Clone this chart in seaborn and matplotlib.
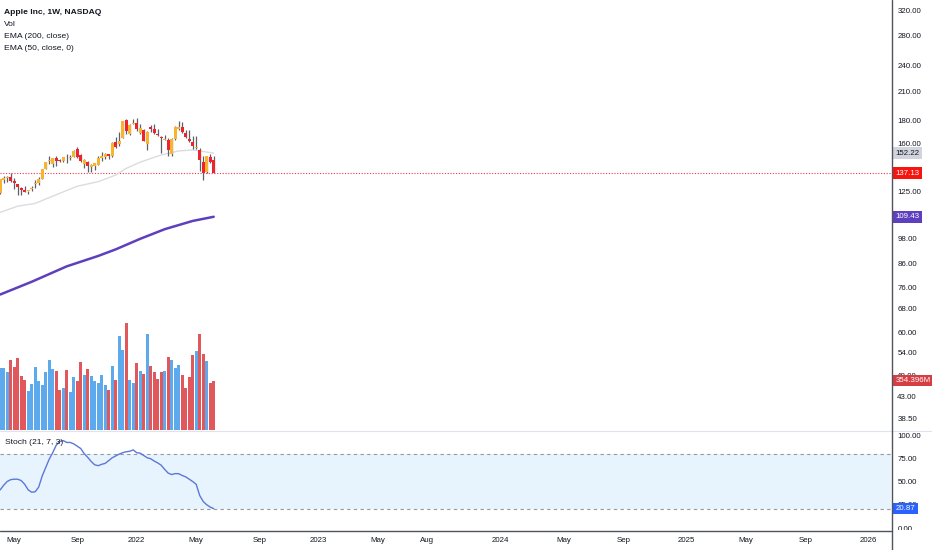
import numpy as np
import pandas as pd
import matplotlib
matplotlib.use("Agg")
import matplotlib.pyplot as plt
import matplotlib.dates as mdates
import matplotlib.transforms as mtransforms
from matplotlib.lines import Line2D
import seaborn as sns

# ==================================================
# DATA  (AAPL weekly)
# ==================================================

weeks = pd.date_range("2021-04-05", periods=62, freq="W-MON")

opens = [123.87, 132.44, 133.51, 134.83, 132.04, 129.41, 126.82, 126.01, 125.08, 126.53,
         129.94, 130.30, 133.41, 140.07, 146.21, 143.75, 148.27, 146.36, 146.20, 148.54,
         148.31, 149.00, 155.49, 150.63, 143.80, 145.47, 141.76, 142.27, 143.45, 148.68,
         148.99, 151.41, 150.37, 161.68, 159.37, 164.29, 181.12, 168.28, 177.09, 177.83,
         169.08, 171.51, 160.02, 174.01, 172.86, 167.37, 164.98, 163.06, 163.36, 151.45,
         163.51, 172.17, 174.57, 168.71, 163.92, 161.12, 156.71, 154.93, 145.55, 137.79,
         149.07, 147.03]

highs = [133.04, 135.00, 135.47, 137.07, 134.07, 129.54, 127.89, 128.32, 125.35, 128.46,
         132.55, 134.64, 140.00, 145.65, 150.00, 148.72, 149.83, 148.04, 149.44, 151.68,
         150.86, 154.98, 157.26, 151.42, 147.47, 145.96, 144.22, 144.90, 149.75, 153.17,
         152.43, 151.57, 161.02, 165.70, 170.30, 179.63, 182.13, 176.85, 181.33, 182.94,
         177.18, 172.54, 170.35, 176.24, 176.65, 172.81, 166.69, 167.36, 165.02, 164.48,
         175.28, 179.61, 178.49, 171.27, 171.53, 166.20, 166.48, 156.74, 149.77, 149.68,
         151.74, 149.87]

lows = [123.07, 130.63, 131.30, 131.07, 126.70, 122.25, 122.77, 124.21, 123.13, 124.83,
        127.07, 129.21, 133.35, 140.07, 143.63, 141.67, 142.54, 145.18, 145.30, 144.50,
        146.83, 149.00, 148.70, 145.76, 141.27, 138.27, 138.27, 139.20, 143.16, 146.41,
        147.80, 147.48, 149.34, 156.36, 157.80, 164.28, 168.34, 167.46, 177.07, 171.03,
        168.17, 162.30, 154.70, 169.51, 168.04, 166.34, 152.00, 162.95, 150.10, 150.10,
        163.01, 172.00, 168.91, 165.04, 161.50, 155.38, 155.50, 138.80, 132.61, 137.14,
        144.46, 137.06]

closes = [133.00, 134.16, 134.32, 131.46, 130.21, 127.45, 125.43, 124.61, 125.89, 127.35,
          130.46, 133.11, 139.96, 145.11, 146.39, 148.56, 145.86, 146.14, 149.10, 148.19,
          148.60, 154.30, 148.97, 146.06, 146.92, 142.65, 142.90, 144.84, 148.69, 149.80,
          151.28, 149.99, 160.55, 156.81, 161.84, 179.45, 171.14, 176.28, 177.57, 172.17,
          173.07, 162.41, 170.33, 172.39, 168.64, 167.30, 164.85, 163.17, 154.73, 163.98,
          174.72, 174.31, 170.09, 165.29, 161.79, 157.65, 157.28, 147.11, 137.59, 149.64,
          145.38, 137.13]

# weekly volume, millions
volume = [448, 443, 419, 503, 455, 515, 388, 359, 280, 331,
          455, 354, 323, 419, 503, 438, 424, 285, 299, 431,
          273, 383, 354, 491, 395, 438, 386, 354, 338, 393,
          326, 285, 460, 362, 675, 572, 771, 362, 340, 481,
          426, 402, 690, 462, 417, 366, 417, 421, 524, 505,
          445, 465, 398, 302, 381, 541, 570, 692, 548, 498,
          338, 354.396]

# EMA values read at a few weeks (index into weeks)
ema200_idx = [0, 9, 19, 28, 33, 40, 47, 55, 61]
ema200_val = [73.1, 78.1, 84.6, 89.3, 92.4, 97.6, 102.6, 107.1, 109.43]

ema50_idx = [0, 5, 10, 16, 22, 28, 33, 36, 40, 46, 51, 55, 57, 61]
ema50_val = [112.0, 115.6, 117.3, 122.7, 128.2, 131.3, 135.9, 140.7, 145.3,
             150.8, 154.0, 154.8, 154.0, 152.22]

# Stoch (21, 7, 3) %K, one per week
stoch = [41, 46, 50, 52, 52.5, 52.5, 51, 47, 41, 38.5,
         39, 44, 56, 65, 74, 81, 89, 93, 94, 92,
         92, 90.5, 88, 85.5, 80, 76, 71.5, 68, 67, 68.5,
         69.5, 72.5, 75.5, 77.5, 79.5, 81, 82, 82.5, 84, 81,
         80.5, 78, 75.5, 74.5, 72, 70, 67.5, 63, 59, 57.5,
         58.5, 58.4, 56.5, 55, 52.5, 50, 47, 35, 28.5, 25,
         22.5, 20.87]

price_ticks = [320, 280, 240, 210, 180, 160, 140, 125, 110, 98, 86, 76, 68,
               60, 54, 48, 43, 38.5]
stoch_ticks = [0, 25, 50, 75, 100]

time_tick_dates = ["2021-05-03", "2021-09-06", "2022-01-03", "2022-05-02",
                   "2022-09-05", "2023-01-02", "2023-05-01", "2023-08-07",
                   "2024-01-01", "2024-05-06", "2024-09-02", "2025-01-06",
                   "2025-05-05", "2025-09-01", "2026-01-05"]
time_tick_labels = ["May", "Sep", "2022", "May", "Sep", "2023", "May", "Aug",
                    "2024", "May", "Sep", "2025", "May", "Sep", "2026"]

last_close = 137.13
last_ema50 = 152.22
last_ema200 = 109.43
last_vol = 354.396
last_stoch = 20.87

# ==================================================
# STYLE
# ==================================================

sns.set_theme(style="white")
plt.rcParams["font.family"] = ["Liberation Sans", "DejaVu Sans"]

TXT = "#131722"
UP_BODY = "#F9B42F"
DN_BODY = "#F0222C"
WICK = "#5D606B"
VOL_UP = "#5DA9EE"
VOL_DN = "#E0585C"
FS = 5.7

W, H = 932, 550
fig = plt.figure(figsize=(W / 100, H / 100), dpi=100)

ax = fig.add_axes([0, 1 - 430 / H, 891 / W, 430 / H])
st = fig.add_axes([0, 1 - 530 / H, 891 / W, 100 / H], sharex=ax)
vol_ax = ax.twinx()

x = mdates.date2num(weeks)
o = np.array(opens)
h = np.array(highs)
l = np.array(lows)
c = np.array(closes)
up = c >= o

# ==================================================
# PRICE PANE
# ==================================================

ax.set_yscale("log")
ax.set_ylim(36.19, 337.05)

sns.lineplot(x=x[ema50_idx], y=ema50_val, ax=ax, color="#DCDCDF",
             linewidth=1.0, zorder=2)
sns.lineplot(x=x[ema200_idx], y=ema200_val, ax=ax, color="#5E3FBE",
             linewidth=1.8, zorder=2)

ax.vlines(x, l, h, color=WICK, linewidth=0.9, zorder=3)
body = np.maximum(np.abs(c - o), c * 0.004)
ax.bar(x, body, bottom=np.minimum(o, c), width=5.2,
       color=np.where(up, UP_BODY, DN_BODY), linewidth=0, zorder=4)

ax.axhline(last_close, color="#F23645", linewidth=0.8,
           linestyle=(0, (1, 1.5)), zorder=1)

ax.yaxis.tick_right()
ax.set_yticks(price_ticks)
ax.set_yticklabels([f"{t:.2f}" for t in price_ticks])
ax.yaxis.set_minor_locator(matplotlib.ticker.NullLocator())
ax.tick_params(axis="y", length=0, pad=4.5, labelsize=FS, labelcolor=TXT)
ax.tick_params(axis="x", labelbottom=False, length=0)
for s in ax.spines.values():
    s.set_visible(False)

# ==================================================
# VOLUME OVERLAY
# ==================================================

vol_ax.bar(x, volume, width=5.4, color=np.where(up, VOL_UP, VOL_DN),
           linewidth=0)
vol_ax.set_ylim(0, max(volume) * 4.0)
vol_ax.set_yticks([])
for s in vol_ax.spines.values():
    s.set_visible(False)

# ==================================================
# STOCH PANE
# ==================================================

st.set_ylim(-2.15, 105.4)
st.fill_between([x[0] - 10, x[0] + 2000], 20, 80, color="#2196F3",
                alpha=0.1, linewidth=0)
for lvl in (80, 20):
    st.axhline(lvl, color="#9598A1", linewidth=0.8, linestyle=(0, (3, 3)))
sns.lineplot(x=x, y=stoch, ax=st, color="#5B78D8", linewidth=1.0)

st.yaxis.tick_right()
st.set_yticks(stoch_ticks)
st.set_yticklabels([f"{t:.2f}" for t in stoch_ticks])
st.tick_params(axis="y", length=0, pad=4.5, labelsize=FS, labelcolor=TXT)
st.set_xticks(mdates.date2num(pd.to_datetime(time_tick_dates)))
st.set_xticklabels(time_tick_labels)
st.tick_params(axis="x", length=0, pad=5, labelsize=FS, labelcolor=TXT)
st.set_xlabel("")
st.set_ylabel("")
ax.set_xlabel("")
for s in st.spines.values():
    s.set_visible(False)

st.set_xlim(x[0] - 0.4, x[0] + 1781.6)

# the 0.00 label is cut by the time axis line, as in the reference
clip = mtransforms.TransformedBbox(
    mtransforms.Bbox([[0, 1 - 530 / H], [1, 1]]), fig.transFigure)
for lbl in st.get_yticklabels():
    lbl.set_clip_box(clip)
    lbl.set_clip_on(True)

# ==================================================
# LAST VALUE TAGS
# ==================================================


def tag(axis, y, text, bg, fg="white"):
    tr = mtransforms.blended_transform_factory(axis.transAxes, axis.transData)
    axis.text(1.0 + 4.5 / 891, y, text, transform=tr, ha="left", va="center",
              fontsize=FS, color=fg, clip_on=False, zorder=10,
              bbox=dict(boxstyle="square,pad=0.3", fc=bg, ec="none"))


tag(ax, last_ema50, f"{last_ema50:.2f}", "#D1D4DC", TXT)
tag(ax, last_close, f"{last_close:.2f}", "#F7150F")
tag(ax, last_ema200, f"{last_ema200:.2f}", "#5E3FBE")
tag(vol_ax, last_vol, f"{last_vol:.3f}M", "#D63E44")
tag(st, last_stoch, f"{last_stoch:.2f}", "#2962FF")

# ==================================================
# LEGEND TEXT + FRAME LINES
# ==================================================

fig.text(4 / W, 1 - 12.5 / H, "Apple Inc, 1W, NASDAQ", fontsize=FS + 0.4,
         weight="bold", color=TXT, va="center")
for i, name in enumerate(["Vol", "EMA (200, close)", "EMA (50, close, 0)"]):
    fig.text(4 / W, 1 - (24 + 12 * i) / H, name, fontsize=FS + 0.4,
             color=TXT, va="center")
fig.text(5 / W, 1 - 442 / H, "Stoch (21, 7, 3)", fontsize=FS + 0.4,
         color=TXT, va="center")

fig.add_artist(Line2D([0, 1], [1 - 430.5 / H] * 2, color="#E0E3EB",
                      linewidth=0.8))
fig.add_artist(Line2D([0, 891.5 / W], [1 - 530.5 / H] * 2, color="#50535E",
                      linewidth=1.0))
fig.add_artist(Line2D([891.5 / W] * 2, [0, 1], color="#50535E",
                      linewidth=1.0))

fig.savefig("out.png", dpi=100)
